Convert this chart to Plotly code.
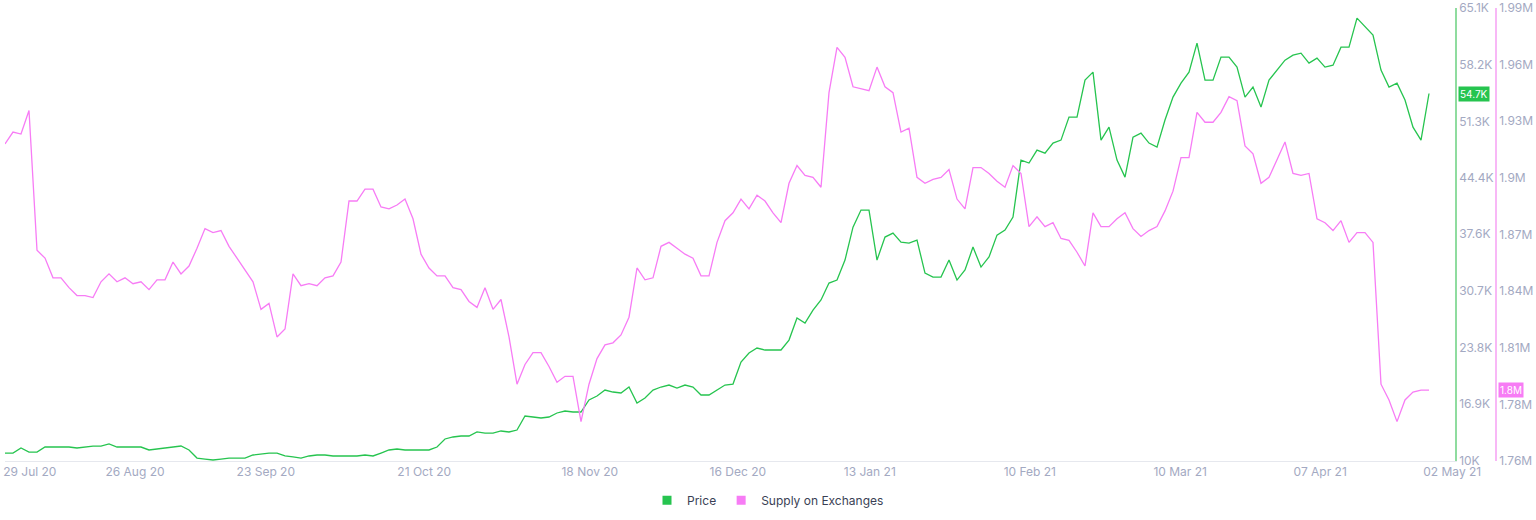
import plotly.graph_objects as go

# price (USD), sampled along the chart
price = [
    10970, 10970, 11580, 11090, 11090, 11700, 11700, 11700, 11700, 11580,
    11700, 11820, 11820, 12070, 11700, 11700, 11700, 11700, 11340, 11460,
    11580, 11700, 11820, 11340, 10360, 10240, 10120, 10240, 10360, 10360,
    10360, 10730, 10850, 10970, 10970, 10610, 10490, 10360, 10610, 10730,
    10730, 10610, 10610, 10610, 10610, 10730, 10610, 10970, 11340, 11460,
    11340, 11340, 11340, 11340, 11700, 12680, 12920, 13040, 13040, 13530,
    13400, 13400, 13650, 13530, 13770, 15470, 15350, 15230, 15350, 15840,
    16080, 15960, 15960, 17420, 17900, 18630, 18390, 18270, 19000, 17050,
    17660, 18630, 19000, 19240, 18880, 19240, 19000, 18030, 18030, 18630,
    19240, 19360, 22040, 23130, 23740, 23500, 23500, 23500, 24710, 27390,
    26780, 28360, 29580, 31640, 32010, 34440, 38450, 40520, 40520, 34440,
    37240, 37720, 36630, 36510, 36870, 32860, 32370, 32370, 34440,
    32010, 33230, 36020, 33590, 34810, 37480, 38090, 39670, 46600, 46240,
    47820, 47450, 48670, 49030, 51830, 51830, 56330, 57300, 49030, 50610,
    46600, 44530, 49400, 49880, 48670, 48180, 51470, 54260, 55960, 57300,
    60830, 56330, 56330, 59130, 59130, 57910, 54260, 55480, 53050, 56330,
    57550, 58760, 59370, 59610, 58400, 59000, 57910, 58150, 60340, 60340,
    63870, 62770, 61800, 57550, 55480, 55960, 53900, 50610, 49030, 54700,
]

# supply on exchanges, thousands of BTC
supply_k = [
    1921, 1927, 1926, 1938, 1867, 1863, 1853, 1853, 1848, 1844,
    1844, 1843, 1851, 1855, 1851, 1853, 1850, 1851, 1847, 1852,
    1852, 1861, 1855, 1859, 1868, 1878, 1876, 1877, 1869, 1863,
    1857, 1851, 1837, 1840, 1823, 1827, 1855, 1849, 1850, 1849,
    1853, 1854, 1861, 1892, 1892, 1898, 1898, 1889, 1888, 1890,
    1893, 1883, 1865, 1858, 1854, 1854, 1848, 1847, 1841, 1838,
    1848, 1837, 1842, 1823, 1799, 1809, 1815, 1815, 1808, 1800,
    1803, 1803, 1780, 1799, 1812, 1819, 1820, 1824, 1833, 1858,
    1852, 1853, 1869, 1871, 1868, 1865, 1863, 1854, 1854, 1871,
    1882, 1886, 1893, 1888, 1895, 1892, 1886, 1881, 1901, 1910,
    1905, 1904, 1899, 1947, 1970, 1965, 1950, 1949, 1948, 1960,
    1950, 1947, 1927, 1929, 1904, 1901, 1903, 1904, 1908,
    1893, 1888, 1909, 1909, 1906, 1902, 1899, 1910, 1906, 1879,
    1884, 1879, 1881, 1873, 1872, 1866, 1859, 1886, 1879, 1879,
    1883, 1886, 1878, 1874, 1877, 1879, 1887, 1897, 1914, 1914,
    1937, 1932, 1932, 1937, 1945, 1943, 1920, 1916, 1901, 1904,
    1913, 1922, 1906, 1905, 1906, 1883, 1881, 1877, 1882, 1871,
    1876, 1876, 1871, 1799, 1791, 1780, 1791, 1795, 1796, 1796,
]

date_labels = ["29 Jul 20", "26 Aug 20", "23 Sep 20", "21 Oct 20", "18 Nov 20", "16 Dec 20",
               "13 Jan 21", "10 Feb 21", "10 Mar 21", "07 Apr 21", "02 May 21"]
date_pos = [3.1, 16.25, 32.6, 52.4, 73.1, 91.6, 108.1, 128.1, 146.9, 164.4, 180.9]

price_ticks = [10000, 16900, 23800, 30700, 37600, 44400, 51300, 58200, 65100]
price_labels = ["10K", "16.9K", "23.8K", "30.7K", "37.6K", "44.4K", "51.3K", "58.2K", "65.1K"]
supply_labels = ["1.76M", "1.78M", "1.81M", "1.84M", "1.87M", "1.9M", "1.93M", "1.96M", "1.99M"]

GREEN = "#26c44f"
PINK = "#f77cf5"
TICK = "#a3a9c2"

idx = list(range(len(price)))
supply = [v * 1000 for v in supply_k]
s_lo, s_hi = 1760000, 1990000
supply_ticks = [s_lo + k * (s_hi - s_lo) / 8 for k in range(9)]

fig = go.Figure()
fig.add_trace(go.Scatter(x=idx, y=supply, yaxis="y2", mode="lines",
                         line=dict(color=PINK, width=1.3), showlegend=False))
fig.add_trace(go.Scatter(x=idx, y=price, mode="lines",
                         line=dict(color=GREEN, width=1.3), showlegend=False))
# legend swatches
fig.add_trace(go.Scatter(x=[None], y=[None], mode="markers", name="Price",
                         marker=dict(symbol="square", size=9, color=GREEN)))
fig.add_trace(go.Scatter(x=[None], y=[None], mode="markers", name="Supply on Exchanges",
                         marker=dict(symbol="square", size=9, color=PINK)))

fig.update_layout(
    width=1536, height=520,
    margin=dict(l=5, r=40, t=8, b=59, autoexpand=False),
    paper_bgcolor="white", plot_bgcolor="white",
    font=dict(family="Inter, Roboto, sans-serif", size=12, color=TICK),
    xaxis=dict(domain=[0, 0.9725], range=[0, 181.25], tickvals=date_pos, ticktext=date_labels,
               showgrid=False, zeroline=False, showline=True, linecolor="#e6e8ee",
               ticks="", tickfont=dict(size=12, color=TICK), automargin=False),
    yaxis=dict(side="right", range=[10000, 65100], tickvals=price_ticks, ticktext=price_labels,
               showgrid=False, zeroline=False, showline=True, linecolor="#8fdc9f", linewidth=1.5,
               ticks="", tickfont=dict(size=12, color=TICK), automargin=False),
    yaxis2=dict(overlaying="y", side="right", anchor="free", position=1.0,
                range=[s_lo, s_hi], tickvals=supply_ticks, ticktext=supply_labels,
                showgrid=False, zeroline=False, showline=True, linecolor="#f8b8f6", linewidth=1.5,
                ticks="", tickfont=dict(size=12, color=TICK), automargin=False),
    legend=dict(orientation="h", x=0.5, xref="container", xanchor="center",
                y=0.038, yref="container", yanchor="middle",
                font=dict(size=12, color="#3a3f55")),
)

fig.add_annotation(x=0.9745, xref="paper", y=price[-1], yref="y", xanchor="left",
                   text=f"{price[-1] / 1000:.1f}K", showarrow=False, bgcolor=GREEN,
                   font=dict(size=10, color="white"), borderpad=1)
fig.add_annotation(x=1.0013, xref="paper", y=supply[-1], yref="y2", xanchor="left",
                   text=f"{supply[-1] / 1e6:.1f}M", showarrow=False, bgcolor=PINK,
                   font=dict(size=10, color="white"), borderpad=1)

# the page's default body margin would shift the whole chart by 8px
fig.write_html("out.html", config={"displayModeBar": False},
               post_script="document.body.style.margin = '0';")
